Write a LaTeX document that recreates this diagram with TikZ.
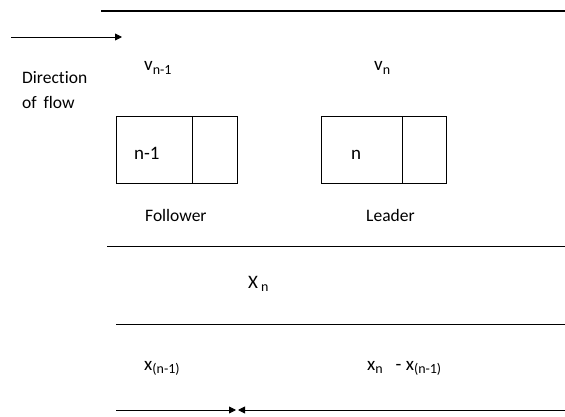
\documentclass[tikz,border=0pt]{standalone}
\usepackage{fontspec}
\setmainfont[Ligatures=NoCommon]{Carlito}
\usetikzlibrary{arrows.meta}
\newcommand\sbx[1]{\raisebox{-3.5pt}{\fontsize{14}{16}\selectfont #1}}
\tikzset{
  lbl/.style={inner sep=0pt, font=\fontsize{17.5}{19}\selectfont, anchor=base west},
  sym/.style={inner sep=0pt, font=\fontsize{19}{21}\selectfont, anchor=base west},
  car/.style={draw, line width=1pt, inner sep=0pt},
  road/.style={line width=1pt},
  tip/.style={-{Triangle[length=7pt,width=7pt]}, line width=0.9pt}
}
\begin{document}
\begin{tikzpicture}[x=1pt,y=-1pt]
\useasboundingbox (0,0) rectangle (565,417);
% road edges
\coordinate (t1) at (101,11); \coordinate (t2) at (565,11);
\draw[line width=1.8pt] (t1) -- (t2);
\coordinate (m1) at (107,246); \coordinate (m2) at (565,246);
\draw[road] (m1) -- (m2);
\coordinate (l1) at (116,324); \coordinate (l2) at (565,324);
\draw[road] (l1) -- (l2);
% flow arrow
\coordinate (fa) at (11,37); \coordinate (fb) at (122,37);
\draw[tip] (fa) -- (fb);
\node[lbl] (dir) at (22,84) {Direction};
\node[lbl] (flow) at (22,109) {of\, flow};
% speeds
\node[sym] (vf) at (144,71) {v\sbx{n-1}};
\node[sym] (vl) at (374,71) {v\sbx{n}};
% follower car
\draw[car] (116,117) rectangle (237,183);
\coordinate (fd1) at (192,117); \coordinate (fd2) at (192,183);
\draw[line width=0.8pt] (fd1) -- (fd2);
\node[sym] (fn) at (134,160) {n-1};
\node[lbl] (fol) at (145,221) {Follower};
% leader car
\draw[car] (321,117) rectangle (446,183);
\coordinate (ld1) at (402,117); \coordinate (ld2) at (402,183);
\draw[line width=0.8pt] (ld1) -- (ld2);
\node[sym] (ln) at (351,160) {n};
\node[lbl] (lea) at (366,221) {Leader};
% positions
\node[sym] (xn) at (248,288) {X\,\sbx{n}};
\node[sym] (xf) at (144,370) {x\sbx{(n-1)}};
\node[sym] (gap) at (367,370) {x\sbx{n}\ \ \ -\ x\sbx{(n-1)}};
% bottom arrows
\coordinate (b1) at (116,410); \coordinate (bm1) at (236,410);
\coordinate (b2) at (565,410); \coordinate (bm2) at (238,410);
\draw[tip] (b1) -- (bm1);
\draw[tip] (b2) -- (bm2);
\end{tikzpicture}
\end{document}
